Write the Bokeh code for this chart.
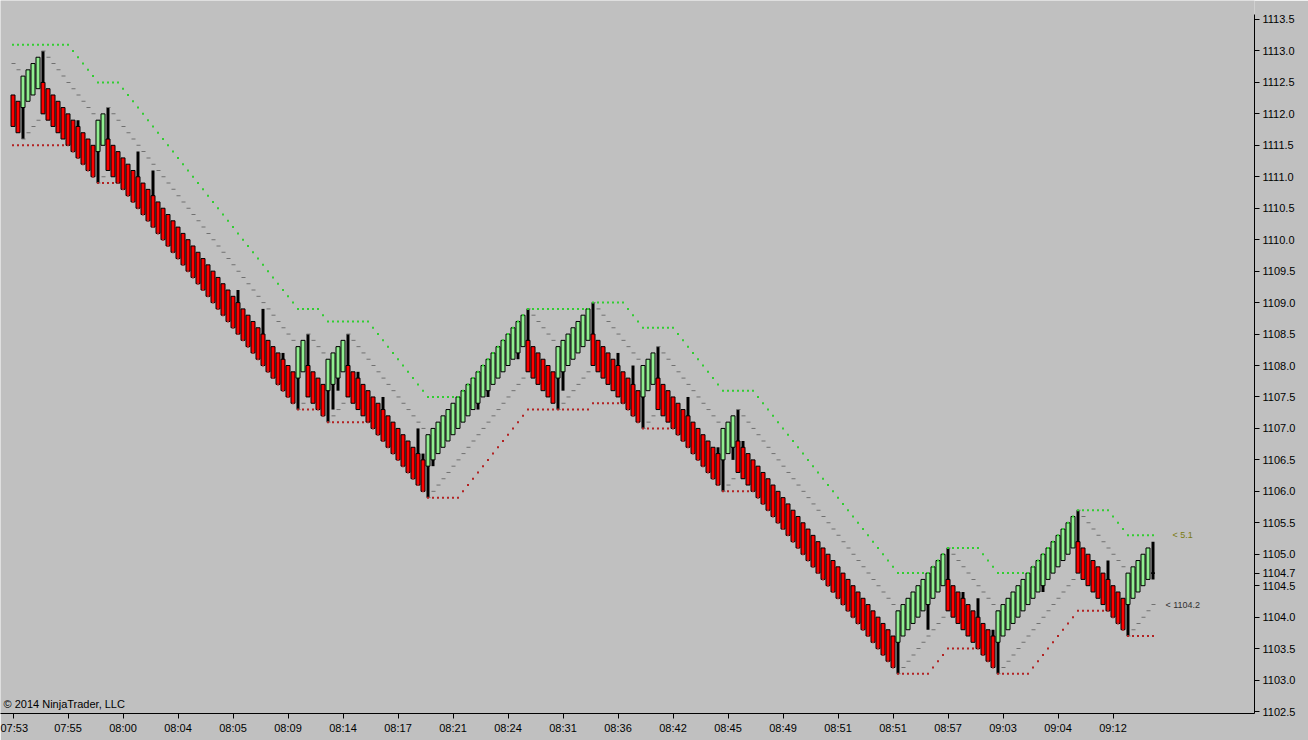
from bokeh.plotting import figure
from bokeh.models import Range1d, FixedTicker, PrintfTickFormatter, Label
from bokeh.core.properties import value
from bokeh.embed import file_html
from bokeh.resources import INLINE

# ---------------- data ----------------
# UniRenko bar closes (one bar per 5px slot)
close = [
    1111.8, 1111.7, 1112.6, 1112.7, 1112.8, 1112.9, 1112.0, 1111.9, 1111.8, 1111.7,
    1111.6, 1111.5, 1111.4, 1111.3, 1111.2, 1111.1, 1111.0, 1111.9, 1112.0, 1111.1,
    1111.0, 1110.9, 1110.8, 1110.7, 1110.6, 1110.5, 1110.4, 1110.3, 1110.2, 1110.1,
    1110.0, 1109.9, 1109.8, 1109.7, 1109.6, 1109.5, 1109.4, 1109.3, 1109.2, 1109.1,
    1109.0, 1108.9, 1108.8, 1108.7, 1108.6, 1108.5, 1108.4, 1108.3, 1108.2, 1108.1,
    1108.0, 1107.9, 1107.8, 1107.7, 1107.6, 1107.5, 1107.4, 1108.3, 1108.4, 1107.5,
    1107.4, 1107.3, 1107.2, 1108.1, 1108.2, 1108.3, 1108.4, 1107.5, 1107.4, 1107.3,
    1107.2, 1107.1, 1107.0, 1106.9, 1106.8, 1106.7, 1106.6, 1106.5, 1106.4, 1106.3,
    1106.2, 1106.1, 1106.0, 1106.9, 1107.0, 1107.1, 1107.2, 1107.3, 1107.4, 1107.5,
    1107.6, 1107.7, 1107.8, 1107.9, 1108.0, 1108.1, 1108.2, 1108.3, 1108.4, 1108.5,
    1108.6, 1108.7, 1108.8, 1107.9, 1107.8, 1107.7, 1107.6, 1107.5, 1107.4, 1108.3,
    1108.4, 1108.5, 1108.6, 1108.7, 1108.8, 1108.9, 1108.0, 1107.9, 1107.8, 1107.7,
    1107.6, 1107.5, 1107.4, 1107.3, 1107.2, 1107.1, 1108.0, 1108.1, 1108.2, 1107.3,
    1107.2, 1107.1, 1107.0, 1106.9, 1106.8, 1106.7, 1106.6, 1106.5, 1106.4, 1106.3,
    1106.2, 1106.1, 1107.0, 1107.1, 1107.2, 1106.3, 1106.2, 1106.1, 1106.0, 1105.9,
    1105.8, 1105.7, 1105.6, 1105.5, 1105.4, 1105.3, 1105.2, 1105.1, 1105.0, 1104.9,
    1104.8, 1104.7, 1104.6, 1104.5, 1104.4, 1104.3, 1104.2, 1104.1, 1104.0, 1103.9,
    1103.8, 1103.7, 1103.6, 1103.5, 1103.4, 1103.3, 1103.2, 1104.1, 1104.2, 1104.3,
    1104.4, 1104.5, 1104.6, 1104.7, 1104.8, 1104.9, 1105.0, 1104.1, 1104.0, 1103.9,
    1103.8, 1103.7, 1103.6, 1103.5, 1103.4, 1103.3, 1103.2, 1104.1, 1104.2, 1104.3,
    1104.4, 1104.5, 1104.6, 1104.7, 1104.8, 1104.9, 1105.0, 1105.1, 1105.2, 1105.3,
    1105.4, 1105.5, 1105.6, 1104.7, 1104.6, 1104.5, 1104.4, 1104.3, 1104.2, 1104.1,
    1104.0, 1103.9, 1103.8, 1104.7, 1104.8, 1104.9, 1105.0, 1105.1, 1104.7,
]
# bar direction: R = down bar, G = up bar, D = bar still forming
side = ("RRGGGGRRRR" "RRRRRRRGGR" "RRRRRRRRRR" "RRRRRRRRRR" "RRRRRRRRRR"
        "RRRRRRRGGR" "RRRGGGGRRR" "RRRRRRRRRR" "RRRGGGGGGG" "GGGGGGGGGG"
        "GGGRRRRRRG" "GGGGGGRRRR" "RRRRRRGGGR" "RRRRRRRRRR" "RRGGGRRRRR"
        "RRRRRRRRRR" "RRRRRRRRRR" "RRRRRRRGGG" "GGGGGGGRRR" "RRRRRRRGGG"
        "GGGGGGGGGG" "GGGRRRRRRR" "RRRGGGGGD")
# wick extremes (bar index, price reached beyond the body)
wick_bar = [2, 6, 13, 17, 19, 25, 28, 45, 50, 54, 57, 59, 63, 64, 65, 67, 69, 74,
            81, 82, 83, 84, 93, 95, 101, 103, 109, 110, 116, 121, 124, 126, 129,
            135, 141, 142, 144, 145, 146, 177, 183, 187, 190, 193, 196, 197, 206,
            213, 219, 223, 228, 228]
wick_to = [1111.6, 1113.0, 1111.9, 1110.9, 1112.1, 1111.4, 1111.1, 1109.2, 1108.9,
           1108.2, 1107.3, 1108.5, 1107.1, 1107.3, 1107.6, 1108.5, 1107.9, 1107.5,
           1107.0, 1106.6, 1105.9, 1106.4, 1107.3, 1107.5, 1108.1, 1108.9, 1107.3,
           1107.6, 1109.0, 1108.2, 1108.0, 1107.0, 1108.3, 1107.5, 1106.7, 1106.0,
           1106.5, 1107.3, 1106.8, 1103.1, 1103.8, 1105.1, 1104.4, 1104.3, 1103.8,
           1103.1, 1104.4, 1105.7, 1104.9, 1103.7, 1105.2, 1104.6]
# upper (green dotted) channel
upper = [
    1113.1, 1113.1, 1113.1, 1113.1, 1113.1, 1113.1, 1113.1, 1113.1, 1113.1, 1113.1,
    1113.1, 1113.1, 1113.0, 1112.9, 1112.8, 1112.7, 1112.6, 1112.5, 1112.5, 1112.5,
    1112.5, 1112.5, 1112.4, 1112.3, 1112.2, 1112.1, 1112.0, 1111.9, 1111.8, 1111.7,
    1111.6, 1111.5, 1111.4, 1111.3, 1111.2, 1111.1, 1111.0, 1110.9, 1110.8, 1110.7,
    1110.6, 1110.5, 1110.4, 1110.3, 1110.2, 1110.1, 1110.0, 1109.9, 1109.8, 1109.7,
    1109.6, 1109.5, 1109.4, 1109.3, 1109.2, 1109.1, 1109.0, 1108.9, 1108.9, 1108.9,
    1108.9, 1108.9, 1108.8, 1108.7, 1108.7, 1108.7, 1108.7, 1108.7, 1108.7, 1108.7,
    1108.7, 1108.7, 1108.6, 1108.5, 1108.4, 1108.3, 1108.2, 1108.1, 1108.0, 1107.9,
    1107.8, 1107.7, 1107.6, 1107.5, 1107.5, 1107.5, 1107.5, 1107.5, 1107.5, 1107.5,
    1107.6, 1107.7, 1107.8, 1107.9, 1108.0, 1108.1, 1108.2, 1108.3, 1108.4, 1108.5,
    1108.6, 1108.7, 1108.8, 1108.9, 1108.9, 1108.9, 1108.9, 1108.9, 1108.9, 1108.9,
    1108.9, 1108.9, 1108.9, 1108.9, 1108.9, 1108.9, 1109.0, 1109.0, 1109.0, 1109.0,
    1109.0, 1109.0, 1109.0, 1108.9, 1108.8, 1108.7, 1108.6, 1108.6, 1108.6, 1108.6,
    1108.6, 1108.6, 1108.6, 1108.5, 1108.4, 1108.3, 1108.2, 1108.1, 1108.0, 1107.9,
    1107.8, 1107.7, 1107.6, 1107.6, 1107.6, 1107.6, 1107.6, 1107.6, 1107.6, 1107.5,
    1107.4, 1107.3, 1107.2, 1107.1, 1107.0, 1106.9, 1106.8, 1106.7, 1106.6, 1106.5,
    1106.4, 1106.3, 1106.2, 1106.1, 1106.0, 1105.9, 1105.8, 1105.7, 1105.6, 1105.5,
    1105.4, 1105.3, 1105.2, 1105.1, 1105.0, 1104.9, 1104.8, 1104.7, 1104.7, 1104.7,
    1104.7, 1104.7, 1104.7, 1104.7, 1104.8, 1104.9, 1105.0, 1105.1, 1105.1, 1105.1,
    1105.1, 1105.1, 1105.1, 1105.1, 1105.0, 1104.9, 1104.8, 1104.7, 1104.7, 1104.7,
    1104.7, 1104.7, 1104.7, 1104.7, 1104.8, 1104.9, 1105.0, 1105.1, 1105.2, 1105.3,
    1105.4, 1105.5, 1105.6, 1105.7, 1105.7, 1105.7, 1105.7, 1105.7, 1105.7, 1105.7,
    1105.6, 1105.5, 1105.4, 1105.3, 1105.3, 1105.3, 1105.3, 1105.3, 1105.3,
]
# lower (red dotted) channel
lower = [
    1111.5, 1111.5, 1111.5, 1111.5, 1111.5, 1111.5, 1111.5, 1111.5, 1111.5, 1111.5,
    1111.5, 1111.5, 1111.4, 1111.3, 1111.2, 1111.1, 1111.0, 1110.9, 1110.9, 1110.9,
    1110.9, 1110.9, 1110.8, 1110.7, 1110.6, 1110.5, 1110.4, 1110.3, 1110.2, 1110.1,
    1110.0, 1109.9, 1109.8, 1109.7, 1109.6, 1109.5, 1109.4, 1109.3, 1109.2, 1109.1,
    1109.0, 1108.9, 1108.8, 1108.7, 1108.6, 1108.5, 1108.4, 1108.3, 1108.2, 1108.1,
    1108.0, 1107.9, 1107.8, 1107.7, 1107.6, 1107.5, 1107.4, 1107.3, 1107.3, 1107.3,
    1107.3, 1107.3, 1107.2, 1107.1, 1107.1, 1107.1, 1107.1, 1107.1, 1107.1, 1107.1,
    1107.1, 1107.1, 1107.0, 1106.9, 1106.8, 1106.7, 1106.6, 1106.5, 1106.4, 1106.3,
    1106.2, 1106.1, 1106.0, 1105.9, 1105.9, 1105.9, 1105.9, 1105.9, 1105.9, 1105.9,
    1106.0, 1106.1, 1106.2, 1106.3, 1106.4, 1106.5, 1106.6, 1106.7, 1106.8, 1106.9,
    1107.0, 1107.1, 1107.2, 1107.3, 1107.3, 1107.3, 1107.3, 1107.3, 1107.3, 1107.3,
    1107.3, 1107.3, 1107.3, 1107.3, 1107.3, 1107.3, 1107.4, 1107.4, 1107.4, 1107.4,
    1107.4, 1107.4, 1107.4, 1107.3, 1107.2, 1107.1, 1107.0, 1107.0, 1107.0, 1107.0,
    1107.0, 1107.0, 1107.0, 1106.9, 1106.8, 1106.7, 1106.6, 1106.5, 1106.4, 1106.3,
    1106.2, 1106.1, 1106.0, 1106.0, 1106.0, 1106.0, 1106.0, 1106.0, 1106.0, 1105.9,
    1105.8, 1105.7, 1105.6, 1105.5, 1105.4, 1105.3, 1105.2, 1105.1, 1105.0, 1104.9,
    1104.8, 1104.7, 1104.6, 1104.5, 1104.4, 1104.3, 1104.2, 1104.1, 1104.0, 1103.9,
    1103.8, 1103.7, 1103.6, 1103.5, 1103.4, 1103.3, 1103.2, 1103.1, 1103.1, 1103.1,
    1103.1, 1103.1, 1103.1, 1103.1, 1103.2, 1103.3, 1103.4, 1103.5, 1103.5, 1103.5,
    1103.5, 1103.5, 1103.5, 1103.5, 1103.4, 1103.3, 1103.2, 1103.1, 1103.1, 1103.1,
    1103.1, 1103.1, 1103.1, 1103.1, 1103.2, 1103.3, 1103.4, 1103.5, 1103.6, 1103.7,
    1103.8, 1103.9, 1104.0, 1104.1, 1104.1, 1104.1, 1104.1, 1104.1, 1104.1, 1104.1,
    1104.0, 1103.9, 1103.8, 1103.7, 1103.7, 1103.7, 1103.7, 1103.7, 1103.7,
]
tick_bars = [0, 11, 22, 33, 44, 55, 66, 77, 88, 99, 110, 121, 132, 143, 154,
             165, 176, 187, 198, 209, 220]
time_labels = ["07:53", "07:55", "08:00", "08:04", "08:05", "08:09", "08:14",
               "08:17", "08:21", "08:24", "08:31", "08:36", "08:42", "08:45",
               "08:49", "08:51", "08:51", "08:57", "09:03", "09:04", "09:12"]
price_ticks = [1102.5, 1103.0, 1103.5, 1104.0, 1104.5, 1105.0, 1105.5, 1106.0,
               1106.5, 1107.0, 1107.5, 1108.0, 1108.5, 1109.0, 1109.5, 1110.0,
               1110.5, 1111.0, 1111.5, 1112.0, 1112.5, 1113.0, 1113.5]
channel_note = "< 5.1"

# bar-type settings (UniRenko: open offset and reversal distance)
OPEN_OFFSET = 0.5
REVERSAL = 1.0

BG = "#C0C0C0"
UP = "#90EE90"
DOWN = "#FF0000"
FONT = "Liberation Sans"
Y_LO, Y_HI = 1102.4686, 1113.802

n = len(close)
xs = list(range(n))
tops, bots, fills = [], [], []
for c, s in zip(close, side):
    if s == "G":
        o = round(c - OPEN_OFFSET, 1)
        fills.append(UP)
    elif s == "R":
        o = round(c + OPEN_OFFSET, 1)
        fills.append(DOWN)
    else:
        o = c
        fills.append(DOWN)
    tops.append(max(o, c))
    bots.append(min(o, c))

hi = list(tops)
lo = list(bots)
for b, pz in zip(wick_bar, wick_to):
    hi[b] = max(hi[b], pz)
    lo[b] = min(lo[b], pz)
wx = sorted(set(wick_bar))
wlo = [lo[i] for i in wx]
whi = [hi[i] for i in wx]

# reversal level indicator (grey dashes)
rev = []
for i, (c, s) in enumerate(zip(close, side)):
    if s == "R":
        rev.append(round(c + REVERSAL, 1))
    elif s == "G":
        rev.append(round(c - REVERSAL, 1))
    else:
        rev.append(round(hi[i] - REVERSAL, 1))

last = close[-1]

p = figure(width=1308, height=740, output_backend="svg", toolbar_location=None,
           x_range=Range1d(-2.5, 248.3), y_range=Range1d(Y_LO, Y_HI),
           min_border_left=0, min_border_right=54, min_border_top=0,
           min_border_bottom=27, background_fill_color=BG, border_fill_color=BG,
           outline_line_color=None, y_axis_location="right")
p.margin = (0, 0, 0, 0)
p.grid.visible = False

xa = p.xaxis[0]
xa.ticker = FixedTicker(ticks=tick_bars)
xa.major_label_overrides = {b: t for b, t in zip(tick_bars, time_labels)}
ya = p.yaxis[0]
# the last traded price is also marked on the price scale
ya.ticker = FixedTicker(ticks=price_ticks + [last])
ya.formatter = PrintfTickFormatter(format="%.1f")
ya.bounds = (Y_LO, 1113.58)
for ax in (xa, ya):
    ax.axis_line_color = "black"
    ax.major_tick_line_color = "black"
    ax.major_tick_in = 0
    ax.major_tick_out = 5
    ax.minor_tick_in = 0
    ax.minor_tick_out = 0
    ax.major_label_standoff = 3
    ax.major_label_text_font = FONT
    ax.major_label_text_font_size = "11px"
    ax.major_label_text_color = "black"

# wicks
p.segment(x0=wx, y0=wlo, x1=wx, y1=whi, line_color="black", line_width=3)
# bodies
p.vbar(x=xs, width=0.8, top=tops, bottom=bots, fill_color=fills,
       line_color="black", line_width=1)
# reversal level dashes
p.rect(x=[x + 0.1 for x in xs], y=rev, width=0.8, height=1, height_units="screen",
       fill_color="#707070", line_color=None)
# channel dots
p.rect(x=xs, y=upper, width=2, height=2, width_units="screen", height_units="screen",
       fill_color="#32CD32", line_color=None)
p.rect(x=xs, y=lower, width=2, height=2, width_units="screen", height_units="screen",
       fill_color="#B22222", line_color=None)

# right-side notes
p.text(x=[n - 1 + 3.9], y=[upper[-1]], text=[channel_note],
       text_font=value(FONT), text_font_size="9px", text_color="#7A7A10",
       text_baseline="middle", text_align="left")
p.text(x=[n - 1 + 2.5], y=[rev[-1]], text=["< %.1f" % rev[-1]],
       text_font=value(FONT), text_font_size="9px", text_color="#303030",
       text_baseline="middle", text_align="left")

# last price marker on the axis (arrow + black box), drawn on the overlay level
p.add_layout(Label(x=248.45, y=last, text="\u25c0", text_color="black",
                   text_font="DejaVu Sans", text_font_size="13px",
                   text_baseline="middle", text_align="left", level="overlay"))
p.add_layout(Label(x=249.9, y=last, text="%.1f" % last, text_color="white",
                   text_font=FONT, text_font_size="11px", text_baseline="middle",
                   text_align="left", background_fill_color="black",
                   background_fill_alpha=1.0, padding=2, level="overlay"))

p.add_layout(Label(x=-1.9, y=1102.52, text="\u00a9 2014 NinjaTrader, LLC",
                   text_color="black", text_font=FONT, text_font_size="11px",
                   text_baseline="bottom", text_align="left"))

open("out.html", "w").write(file_html(p, INLINE))
